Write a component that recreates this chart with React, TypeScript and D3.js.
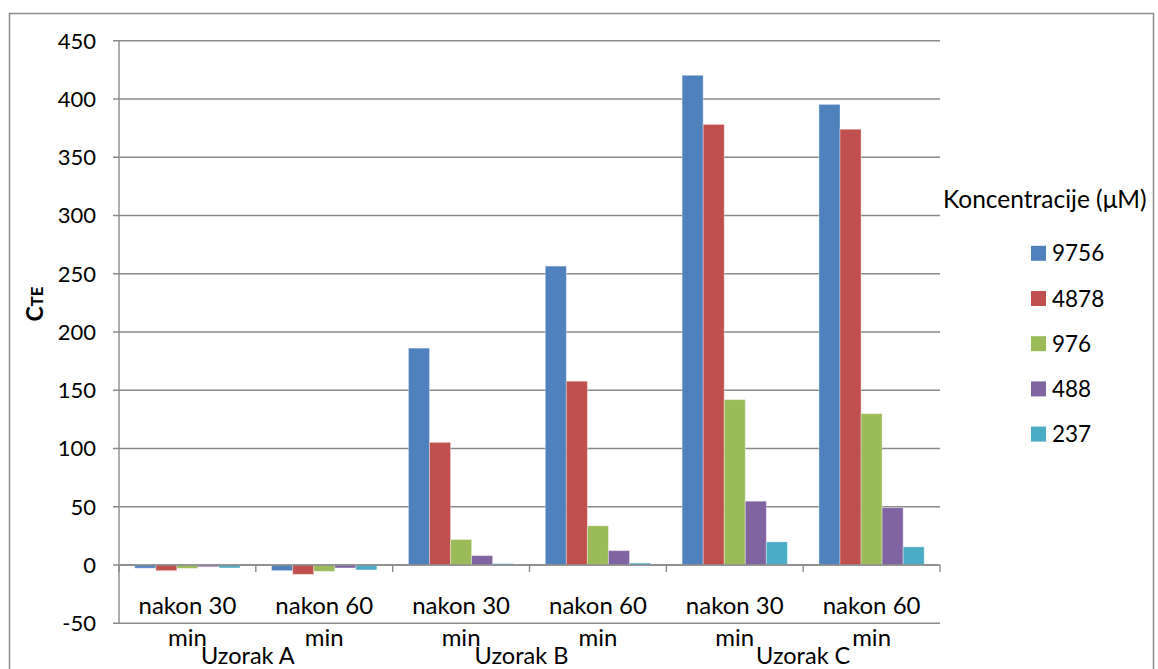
import React from "react";
import * as d3 from "d3";

const groups = ["Uzorak A", "Uzorak B", "Uzorak C"];
const times = ["nakon 30 min", "nakon 60 min"];
const categories = ["A30", "A60", "B30", "B60", "C30", "C60"];
const seriesNames = ["9756", "4878", "976", "488", "237"];
const colors = ["#4F81BD", "#C0504D", "#9BBB59", "#8064A2", "#4BACC6"];
// values per category, in series order (9756, 4878, 976, 488, 237)
const valA30 = [-2.7, -4.8, -2.8, -1.5, -2.5];
const valA60 = [-4.8, -8, -5.4, -2.5, -4.2];
const valB30 = [186.2, 105.3, 21.9, 8.1, 1.2];
const valB60 = [256.6, 157.8, 33.7, 12.4, 1.7];
const valC30 = [420.4, 378.2, 142, 54.8, 19.9];
const valC60 = [395.4, 374.1, 130, 49.3, 15.6];
const values = [valA30, valA60, valB30, valB60, valC30, valC60];
const yTicks = [-50, 0, 50, 100, 150, 200, 250, 300, 350, 400, 450];
const yTitle = "C";
const yTitleSub = "TE";
const legendTitle = "Koncentracije (μM)";

const FONT = "Lato, 'Open Sans', sans-serif";

export default function App() {
  const W = 1158, H = 669;
  const left = 119, right = 940, top = 40.8, bottom = 623.3;
  const y = d3.scaleLinear().domain([-50, 450]).range([bottom, top]);
  const x0 = d3.scaleBand<string>().domain(categories).range([left, right]).paddingInner(0).paddingOuter(0);
  const x1 = d3.scaleBand<string>().domain(seriesNames).range([0, x0.bandwidth()]).paddingInner(0).paddingOuter(0.75);
  const y0 = y(0);
  const gridColor = "#8a8a8a";

  return (
    <svg width={W} height={H} style={{ position: "absolute", left: 0, top: 0, background: "#fff" }} fontFamily={FONT}>
      <rect x={9.5} y={13.5} width={1144} height={700} fill="#fff" stroke="#8c8c8c" strokeWidth={1.5} />
      {/* gridlines and y ticks */}
      {yTicks.map((t) => (
        <g key={t}>
          <line x1={left - 6} x2={right} y1={y(t)} y2={y(t)} stroke={gridColor} strokeWidth={1.4} />
          <text x={96} y={y(t)} dy="0.36em" textAnchor="end" fontSize={22} fill="#000">
            {t}
          </text>
        </g>
      ))}
      {/* y axis line */}
      <line x1={left} x2={left} y1={top} y2={bottom} stroke={gridColor} strokeWidth={1.4} />
      {/* bars */}
      {categories.map((c, ci) => (
        <g key={c} transform={`translate(${x0(c)},0)`}>
          {seriesNames.map((s, si) => {
            const v = values[ci][si];
            const yy = y(Math.max(0, v));
            const h = Math.abs(y(v) - y0);
            return (
              <rect key={s} x={x1(s)} y={yy} width={x1.bandwidth()} height={h} fill={colors[si]}
                stroke="rgba(255,255,255,0.35)" strokeWidth={1} />
            );
          })}
        </g>
      ))}
      {/* category axis at zero */}
      <line x1={left} x2={right} y1={y0} y2={y0} stroke={gridColor} strokeWidth={1.4} />
      {d3.range(categories.length + 1).map((i) => {
        const xx = left + i * x0.step();
        return <line key={i} x1={xx} x2={xx} y1={y0} y2={y0 + 7} stroke={gridColor} strokeWidth={1.4} />;
      })}
      {/* category labels */}
      {categories.map((c, ci) => {
        const cx = (x0(c) as number) + x0.bandwidth() / 2;
        const parts = times[ci % 2].split(" ");
        return (
          <g key={c} fontSize={24} fill="#000" textAnchor="middle">
            <text x={cx} y={614}>{parts.slice(0, 2).join(" ")}</text>
            <text x={cx} y={646}>{parts[2]}</text>
          </g>
        );
      })}
      {groups.map((g, gi) => {
        const cx = left + (gi * 2 + 1) * x0.step() - (gi === 2 ? 0 : 8);
        return (
          <text key={g} x={cx} y={664} fontSize={23.5} textAnchor="middle" fill="#000">
            {g}
          </text>
        );
      })}
      {/* y title */}
      <text transform="translate(43,304) rotate(-90)" textAnchor="middle" fontWeight="bold" fontSize={23} fill="#000">
        {yTitle}
        <tspan fontSize={17}>{yTitleSub}</tspan>
      </text>
      {/* legend */}
      <text x={943} y={208} fontSize={24.5} fill="#000">{legendTitle}</text>
      {seriesNames.map((s, si) => {
        const cy = 253.3 + si * 45.2;
        return (
          <g key={s}>
            <rect x={1031} y={cy - 7.5} width={15} height={15} fill={colors[si]} />
            <text x={1052} y={cy} dy="0.36em" fontSize={22.5} fill="#000">{s}</text>
          </g>
        );
      })}
    </svg>
  );
}
